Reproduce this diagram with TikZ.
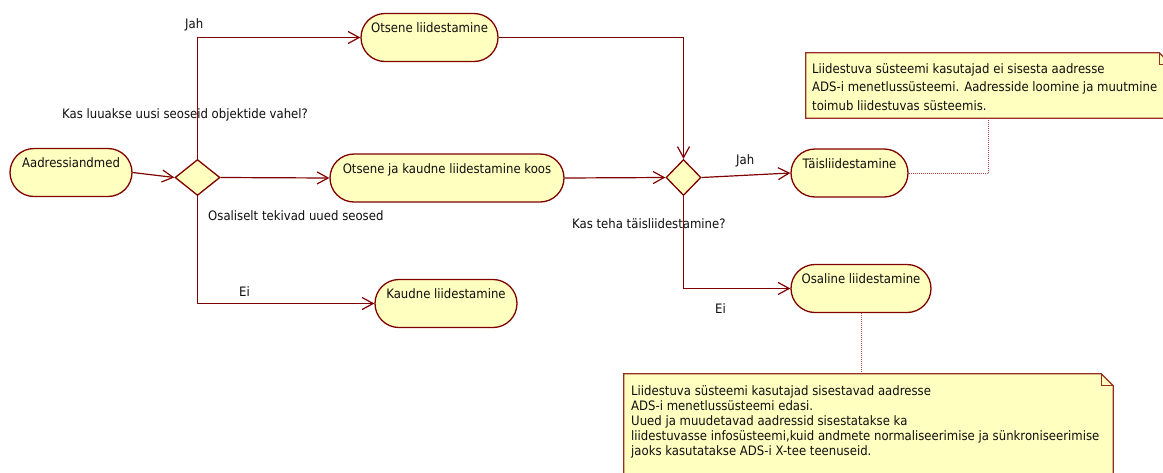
\documentclass[tikz,border=0pt]{standalone}
\usepackage{fontspec}
\setmainfont{DejaVu Sans}[FakeStretch=0.9]
\usetikzlibrary{arrows.meta,shapes.geometric,calc}
\definecolor{edgered}{RGB}{128,0,0}
\definecolor{actfill}{RGB}{255,255,192}
\definecolor{noteedge}{RGB}{150,45,35}
\definecolor{dotred}{RGB}{185,70,70}
\definecolor{txt}{RGB}{15,15,15}

\begin{document}
\begin{tikzpicture}[x=1pt,y=-1pt,
  font=\fontsize{13}{15}\selectfont, text=txt,
  activity/.style={draw=edgered, fill=actfill, line width=1.3pt,
    rounded corners=24pt, minimum height=48pt, inner xsep=0pt, inner ysep=0pt,
    text height=19pt, text depth=29pt},
  decision/.style={diamond, draw=edgered, fill=actfill, line width=1.3pt,
    inner sep=0pt, minimum height=36pt},
  flow/.style={draw=edgered, line width=1.2pt,
    -{Straight Barb[length=11pt,width=12pt]}},
  lbl/.style={anchor=base west, inner sep=0pt},
  notebox/.style={inner sep=0pt},
  noteshape/.style={draw=noteedge, fill=actfill, line width=1.2pt},
  notetext/.style={anchor=base west, inner sep=0pt, align=left},
  noteline/.style={draw=dotred, line width=1pt, dash pattern=on 1pt off 1pt}]

% canvas
\useasboundingbox (0,0) rectangle (1163,472);
\fill[white] (0,0) rectangle (1163,472);

% activities and decisions
\node[activity, minimum width=122pt] (addr) at (71,172.5) {Aadressiandmed};
\node[decision, minimum width=45pt] (d1) at (197.5,177.5) {};
\node[activity, minimum width=137pt] (direct) at (429.5,37.5) {Otsene liidestamine};
\node[activity, minimum width=234pt] (both) at (447,178) {Otsene ja kaudne liidestamine koos};
\node[activity, minimum width=142pt] (indirect) at (446,303.5) {Kaudne liidestamine};
\node[decision, minimum width=35pt] (d2) at (683.5,177.5) {};
\node[activity, minimum width=117pt] (full) at (849.5,173) {Täisliidestamine};
\node[activity, minimum width=140pt] (partial) at (861,288.5) {Osaline liidestamine};

% flows
\draw[flow] (addr.east) -- (d1.west);
\draw[flow] (d1.north) |- (direct.west);
\draw[flow] (d1.east) -- (both.west);
\draw[flow] (d1.south) |- (indirect.west);
\draw[flow] (direct.east) -| (d2.north);
\draw[flow] (both.east) -- (d2.west);
\draw[flow] (d2.east) -- (full.west);
\draw[flow] (d2.south) |- (partial.west);

% guard and decision labels
\node[lbl] (jah1) at (185,28) {Jah};
\node[lbl] (q1) at (62,118) {Kas luuakse uusi seoseid objektide vahel?};
\node[lbl] (part) at (208,220) {Osaliselt tekivad uued seosed};
\node[lbl] (ei1) at (239,296) {Ei};
\node[lbl] (q2) at (572,228) {Kas teha täisliidestamine?};
\node[lbl] (jah2) at (736,164) {Jah};
\node[lbl] (ei2) at (715,313) {Ei};

% notes with folded corner
\node[notebox, minimum width=365pt, minimum height=65pt] (n1) at (988.5,85.5) {};
\node[notebox, minimum width=489pt, minimum height=110pt] (n2) at (868.5,429) {};
\foreach \n in {n1,n2}{
  \draw[noteshape] (\n.south west) -- (\n.north west) -- ([xshift=-12pt]\n.north east)
    -- ([yshift=-12pt]\n.north east) -- (\n.south east) -- cycle;
  \draw[draw=noteedge, line width=1.2pt] ([xshift=-12pt]\n.north east) |- ([yshift=-12pt]\n.north east);
}
% note texts are placed by the baseline of their last line
\node[notetext, font=\fontsize{13}{18.5}\selectfont] (t1) at (812,110)
  {Liidestuva süsteemi kasutajad ei sisesta aadresse\\
   ADS-i menetlussüsteemi. Aadresside loomine ja muutmine\\
   toimub liidestuvas süsteemis.};
\node[notetext, font=\fontsize{13}{15}\selectfont] (t2) at (631,455)
  {Liidestuva süsteemi kasutajad sisestavad aadresse\\
   ADS-i menetlussüsteemi edasi.\\
   Uued ja muudetavad aadressid sisestatakse ka\\
   liidestuvasse infosüsteemi,kuid andmete normaliseerimise ja sünkroniseerimise\\
   jaoks kasutatakse ADS-i X-tee teenuseid.};

% note anchors
\draw[noteline] (full.east) -| (n1.south);
\draw[noteline] (partial.south) -- (partial.south |- n2.north);
\end{tikzpicture}
\end{document}
